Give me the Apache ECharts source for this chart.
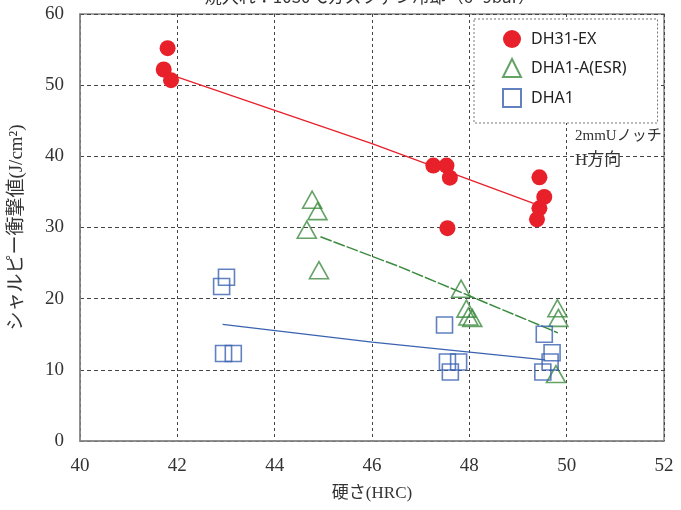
<!DOCTYPE html>
<html><head><meta charset="utf-8">
<script src="https://cdn.jsdelivr.net/npm/echarts@6/dist/echarts.min.js"></script>
<style>html,body{margin:0;padding:0;background:#fff}#c{width:681px;height:510px}</style>
</head><body><div id="c"></div>
<script>
const titleText = '焼入れ：1030℃ガスファン冷却（6~9bar）';
const xTicks = [40, 42, 44, 46, 48, 50, 52];
const yTicks = [0, 10, 20, 30, 40, 50, 60];
const seriesNames = ['DH31-EX', 'DHA1-A(ESR)', 'DHA1'];
const dh31Points = [[41.80,55.2],[41.72,52.2],[41.87,50.7],[47.26,38.7],[47.53,38.7],[47.60,37.0],[47.55,29.9],[49.44,37.05],[49.54,34.3],[49.44,32.7],[49.39,31.15]];
const dha1aPoints = [[44.77,33.9],[44.88,32.3],[44.66,29.7],[44.91,24.0],[47.83,21.4],[47.94,18.6],[47.98,17.5],[48.06,17.3],[49.81,18.65],[49.83,17.3],[49.78,9.4]];
const dha1Points = [[43.01,23.0],[42.91,21.7],[42.95,12.3],[43.15,12.3],[47.49,16.3],[47.55,11.1],[47.78,11.1],[47.61,9.7],[49.54,15.0],[49.70,12.4],[49.66,11.1],[49.51,9.7]];
const dh31Trend = [[41.93,51.3],[46.0,41.8],[49.32,33.4]];
const dha1aTrend = [[44.94,28.7],[46.6,24.4],[49.82,15.2]];
const dha1Trend = [[42.93,16.4],[46.0,13.9],[49.56,11.4]];
const noteLines = ['2mmUノッチ', 'H方向'];

const RED = '#e8202a', GREEN = '#3d8b40', BLUE = '#3a62b0';
const serif = '"Liberation Serif","DejaVu Serif","Noto Sans CJK JP",serif';
const sans = '"Noto Sans","Noto Sans CJK JP",sans-serif';

const chart = echarts.init(document.getElementById('c'), null, {renderer:'canvas'});
chart.setOption({
  animation:false,
  backgroundColor:'#fff',
  grid:{left:79, right:17, top:14, bottom:69, show:true, borderColor:'#888', borderWidth:1.5},
  legend:{
    data:seriesNames.map(n=>({name:n})),
    orient:'vertical', left:474, top:19,
    padding:[11,31,15,28], itemGap:10, itemWidth:18, itemHeight:18,
    borderColor:'#777', borderWidth:1, borderType:[2,2],
    backgroundColor:'#fff',
    textStyle:{fontFamily:sans, fontSize:16, color:'#222', padding:[0,0,0,5]}
  },
  graphic:[
    {type:'text', x:370, y:-12, style:{text:titleText, textAlign:'center', textVerticalAlign:'top', font:'17px "Noto Sans CJK JP"', fill:'#333'}},
    {type:'text', x:575, y:129, style:{text:noteLines[0], font:'15px '+serif, fill:'#333'}},
    {type:'text', x:575, y:152, style:{text:noteLines[1], font:'17px '+serif, fill:'#333'}}
  ],
  xAxis:{
    type:'value', min:xTicks[0], max:xTicks[xTicks.length-1], interval:2,
    name:'硬さ(HRC)', nameLocation:'middle', nameGap:44,
    nameTextStyle:{fontFamily:serif, fontSize:17, color:'#333'},
    axisLine:{show:true, lineStyle:{color:'#888', width:1.5}},
    axisTick:{show:false},
    axisLabel:{fontFamily:serif, fontSize:19, color:'#333', margin:16},
    splitLine:{show:true, lineStyle:{color:'#444', type:[3,3], width:1}}
  },
  yAxis:{
    type:'value', min:yTicks[0], max:yTicks[yTicks.length-1], interval:10,
    name:'シャルピー衝撃値(J/cm²)', nameLocation:'middle', nameGap:53,
    nameTextStyle:{fontFamily:serif, fontSize:19, color:'#333'},
    axisLine:{show:true, lineStyle:{color:'#888', width:1.5}},
    axisTick:{show:false},
    axisLabel:{fontFamily:serif, fontSize:19, color:'#333', margin:16},
    splitLine:{show:true, lineStyle:{color:'#444', type:[4,3], width:1}}
  },
  series:[
    {name:'DH31-EX trend', type:'line', data:dh31Trend, symbol:'none', smooth:false, lineStyle:{color:RED, width:1.3}, z:1, silent:true},
    {name:'DHA1-A(ESR) trend', type:'line', data:dha1aTrend, symbol:'none', lineStyle:{color:GREEN, width:1.5, type:[12,2]}, z:1, silent:true},
    {name:'DHA1 trend', type:'line', data:dha1Trend, symbol:'none', lineStyle:{color:BLUE, width:1.3}, z:1, silent:true},
    {name:seriesNames[0], type:'scatter', data:dh31Points, symbol:'circle', symbolSize:16, itemStyle:{color:RED, opacity:1}, z:3},
    {name:seriesNames[1], type:'scatter', data:dha1aPoints, symbol:'triangle', symbolSize:[19,17], itemStyle:{color:'rgba(255,255,255,0)', borderColor:GREEN, borderWidth:1.6}, z:3},
    {name:seriesNames[2], type:'scatter', data:dha1Points, symbol:'rect', symbolSize:16, itemStyle:{color:'rgba(255,255,255,0)', borderColor:BLUE, borderWidth:1.6}, z:3}
  ]
});
</script></body></html>
